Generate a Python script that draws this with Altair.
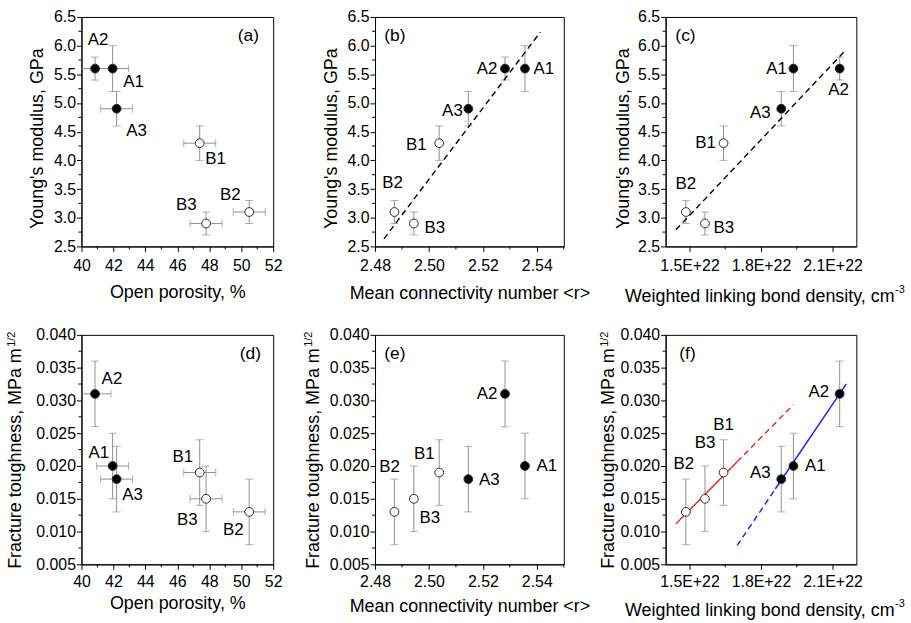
import altair as alt
import pandas as pd

# ---------------- data ----------------
samples = ["A1", "A2", "A3", "B1", "B2", "B3"]
series = ["A", "A", "A", "B", "B", "B"]
open_porosity = [41.95, 40.85, 42.2, 47.4, 50.5, 47.8]
open_porosity_err = [1.0, 1.0, 1.0, 1.0, 1.0, 1.0]
mean_connectivity = [2.5356, 2.5282, 2.5146, 2.5038, 2.4872, 2.4944]
bond_density = [1.936e22, 2.130e22, 1.885e22, 1.643e22, 1.485e22, 1.565e22]
youngs_modulus = [5.6, 5.6, 4.9, 4.3, 3.1, 2.9]
youngs_modulus_err = [0.4, 0.2, 0.3, 0.3, 0.2, 0.2]
fracture_toughness = [0.020, 0.031, 0.018, 0.019, 0.013, 0.015]
fracture_toughness_err = [0.005, 0.005, 0.005, 0.005, 0.005, 0.005]

# fitted lines (end points)
fit_b_x = [2.4833, 2.5413]
fit_b_y = [2.633, 6.235]
fit_c_x = [1.443e22, 2.158e22]
fit_c_y = [2.789, 5.934]
fit_f_red_x = [1.443e22, 1.700e22, 1.936e22]      # solid, then dashed
fit_f_red_y = [0.01117, 0.02064, 0.02934]
fit_f_blue_x = [1.700e22, 1.860e22, 2.158e22]     # dashed, then solid
fit_f_blue_y = [0.00788, 0.01649, 0.03253]

# axis ticks
porosity_ticks = [40, 42, 44, 46, 48, 50, 52]
porosity_minor = [41, 43, 45, 47, 49, 51]
connectivity_ticks = [2.48, 2.50, 2.52, 2.54]
connectivity_minor = [2.49, 2.51, 2.53, 2.55]
density_ticks = [1.5e22, 1.8e22, 2.1e22]
density_minor = [1.65e22, 1.95e22]
youngs_ticks = [2.5, 3.0, 3.5, 4.0, 4.5, 5.0, 5.5, 6.0, 6.5]
youngs_minor = [2.75, 3.25, 3.75, 4.25, 4.75, 5.25, 5.75, 6.25]
tough_ticks = [0.005, 0.010, 0.015, 0.020, 0.025, 0.030, 0.035, 0.040]
tough_minor = [0.0075, 0.0125, 0.0175, 0.0225, 0.0275, 0.0325, 0.0375]

FONT = "Liberation Sans"
ERR = "#8f8f8f"
H = 231


def text_layer(txt, x, y, size=17, **kw):
    return alt.Chart(pd.DataFrame({"t": [txt]})).mark_text(
        font=FONT, fontSize=size, color="black", **kw
    ).encode(x=alt.value(x), y=alt.value(y), text="t:N")


def panel(p):
    W = p["W"]
    df = pd.DataFrame({
        "sample": samples, "series": series, "x": p["x"], "y": p["y"],
        "ylo": [v - e for v, e in zip(p["y"], p["yerr"])],
        "yhi": [v + e for v, e in zip(p["y"], p["yerr"])],
    })
    if p.get("xerr"):
        df["xlo"] = [v - e for v, e in zip(p["x"], p["xerr"])]
        df["xhi"] = [v + e for v, e in zip(p["x"], p["xerr"])]
    xs = alt.Scale(domain=p["xdomain"], nice=False, zero=False)
    ys = alt.Scale(domain=p["ydomain"], nice=False, zero=False)
    xaxis_kw = dict(values=p["xticks"], title=p["xtitle"], tickSize=5, labelPadding=p["xlabpad"],
                    titleX=p["xtitleX"], titleY=p["xtitleY"], titleAlign=p["xtitleAlign"],
                    titleBaseline="alphabetic", labelFlush=False, labelOverlap=False, grid=False)
    if "xlabelExpr" in p:
        xaxis_kw["labelExpr"] = p["xlabelExpr"]
    else:
        xaxis_kw["format"] = p["xfmt"]
    xaxis = alt.Axis(**xaxis_kw)
    yaxis = alt.Axis(values=p["yticks"], format=p["yfmt"], title=p["ytitle"], tickSize=5, labelPadding=1,
                     titleX=p["ytitleX"], titleY=p["ytitleY"], titleAlign=p["ytitleAlign"], titleAngle=270,
                     titleBaseline="alphabetic", labelFlush=False, labelOverlap=False, grid=False)
    base = alt.Chart(df)
    X = lambda f: alt.X(f, scale=xs, axis=xaxis, title=p["xtitle"])
    Y = lambda f: alt.Y(f, scale=ys, axis=yaxis, title=p["ytitle"])
    layers = [
        base.mark_rule(color=ERR, strokeWidth=1).encode(x=X("x:Q"), y=Y("ylo:Q"), y2="yhi:Q"),
        base.mark_tick(color=ERR, thickness=1, size=8, orient="horizontal").encode(x=X("x:Q"), y=Y("ylo:Q")),
        base.mark_tick(color=ERR, thickness=1, size=8, orient="horizontal").encode(x=X("x:Q"), y=Y("yhi:Q")),
    ]
    if p.get("xerr"):
        layers += [
            base.mark_rule(color=ERR, strokeWidth=1, clip=True).encode(x=X("xlo:Q"), x2="xhi:Q", y=Y("y:Q")),
            base.mark_tick(color=ERR, thickness=1, size=8, orient="vertical", clip=True).encode(x=X("xlo:Q"), y=Y("y:Q")),
            base.mark_tick(color=ERR, thickness=1, size=8, orient="vertical", clip=True).encode(x=X("xhi:Q"), y=Y("y:Q")),
        ]
    for (lx, ly, color, dash) in p.get("lines", []):
        ldf = pd.DataFrame({"lx": lx, "ly": ly})
        kw = dict(color=color, strokeWidth=1.4)
        if dash:
            kw["strokeDash"] = [6, 4]
        layers.append(alt.Chart(ldf).mark_line(**kw).encode(x=X("lx:Q"), y=Y("ly:Q")))
    layers.append(base.mark_circle(size=78, opacity=1, stroke="#2a2a2a", strokeWidth=1).encode(
        x=X("x:Q"), y=Y("y:Q"),
        fill=alt.Fill("series:N", scale=alt.Scale(domain=["A", "B"], range=["black", "white"]), legend=None)))
    for s in samples:
        dx, dy = p["offsets"][s]
        layers.append(base.transform_filter(alt.datum.sample == s).mark_text(
            font=FONT, fontSize=17, color="black", dx=dx, dy=dy, align="center", baseline="middle"
        ).encode(x=X("x:Q"), y=Y("y:Q"), text="sample:N"))
    # minor ticks
    layers.append(alt.Chart(pd.DataFrame({"m": p["xminor"]})).mark_rule(color="black").encode(
        x=X("m:Q"), y=alt.value(H), y2=alt.value(H + 3)))
    layers.append(alt.Chart(pd.DataFrame({"m": p["yminor"]})).mark_rule(color="black").encode(
        y=Y("m:Q"), x=alt.value(0), x2=alt.value(-3)))
    # panel letter
    layers.append(text_layer(p["letter"], p["letter_pos"][0], p["letter_pos"][1], size=17.5,
                             align="center", baseline="middle"))
    if p.get("ysup"):
        layers.append(text_layer("1/2", p["ytitleX"] - 6, p["ytitleY"] - 1, size=11, angle=270,
                                 align="left", baseline="alphabetic"))
    if p.get("xsup"):
        layers.append(text_layer("-3", p["xtitleX"] + 1, H + p["xtitleY"] - 8, size=11,
                                 align="left", baseline="alphabetic"))
    return alt.layer(*layers).properties(width=W, height=H)


common_top = dict(y=youngs_modulus, yerr=youngs_modulus_err, ydomain=[2.5, 6.5], yticks=youngs_ticks,
                  yminor=youngs_minor, yfmt=".1f", ytitle="Young's modulus, GPa", ytitleY=122,
                  ytitleAlign="center", xlabpad=6)
common_bot = dict(y=fracture_toughness, yerr=fracture_toughness_err, ydomain=[0.005, 0.040], yticks=tough_ticks,
                  yminor=tough_minor, yfmt=".3f", ytitle="Fracture toughness, MPa m", ytitleY=13,
                  ytitleAlign="right", ysup=True, xlabpad=4)
px_por = dict(x=open_porosity, xerr=open_porosity_err, xdomain=[40, 52], xticks=porosity_ticks,
              xminor=porosity_minor, xfmt="d", xtitle="Open porosity, %", xtitleX=96.5, xtitleAlign="center", W=193)
px_con = dict(x=mean_connectivity, xdomain=[2.48, 2.55], xticks=connectivity_ticks, xminor=connectivity_minor,
              xfmt=".2f", xtitle="Mean connectivity number <r>", xtitleX=95, xtitleAlign="center", W=190)
px_den = dict(x=bond_density, xdomain=[1.4e22, 2.2e22], xticks=density_ticks, xminor=density_minor,
              xlabelExpr="format(datum.value / 1e22, '.1f') + 'E+22'",
              xtitle="Weighted linking bond density, cm", xtitleX=230, xtitleAlign="right", xsup=True, W=192)

pa = panel({**common_top, **px_por, "letter": "(a)", "letter_pos": (168, 19), "ytitleX": -39, "xtitleY": 51,
            "offsets": {"A1": (21, 14), "A2": (3, -29), "A3": (20, 22), "B1": (16, 16), "B2": (-19, -17), "B3": (-20, -19)}})
pb = panel({**common_top, **px_con, "letter": "(b)", "letter_pos": (20, 19), "ytitleX": -39, "xtitleY": 52,
            "lines": [(fit_b_x, fit_b_y, "black", True)],
            "offsets": {"A1": (19, 0), "A2": (-18, 0), "A3": (-16, 2), "B1": (-23, 2), "B2": (-2, -29), "B3": (21, 5)}})
pc = panel({**common_top, **px_den, "letter": "(c)", "letter_pos": (20, 19), "ytitleX": -37, "xtitleY": 55,
            "lines": [(fit_c_x, fit_c_y, "black", True)],
            "offsets": {"A1": (-17, 0), "A2": (-1, 22), "A3": (-21, 4), "B1": (-18, 0), "B2": (0, -28), "B3": (19, 5)}})
pd_ = panel({**common_bot, **px_por, "letter": "(d)", "letter_pos": (170, 19), "ytitleX": -61, "xtitleY": 44,
             "offsets": {"A1": (-14, -13), "A2": (17, -15), "A3": (16, 16), "B1": (-17, -16), "B2": (-16, 18), "B3": (-19, 21)}})
pe = panel({**common_bot, **px_con, "letter": "(e)", "letter_pos": (20, 19), "ytitleX": -57, "xtitleY": 47,
            "offsets": {"A1": (22, 0), "A2": (-18, 0), "A3": (21, 1), "B1": (-15, -19), "B2": (-5, -45), "B3": (16, 19)}})
pf = panel({**common_bot, **px_den, "letter": "(f)", "letter_pos": (22, 19), "ytitleX": -52, "xtitleY": 51,
            "lines": [(fit_f_red_x[:2], fit_f_red_y[:2], "#ff1a1a", False),
                      (fit_f_red_x[1:], fit_f_red_y[1:], "#ff1a1a", True),
                      (fit_f_blue_x[:2], fit_f_blue_y[:2], "#1a1aff", True),
                      (fit_f_blue_x[1:], fit_f_blue_y[1:], "#1a1aff", False)],
            "offsets": {"A1": (22, 0), "A2": (-21, -2), "A3": (-21, -6), "B1": (0, -48), "B2": (-2, -48), "B3": (0, -56)}})

chart = alt.concat(pa, pb, pc, pd_, pe, pf, columns=3, spacing={"row": 89, "column": 102.5}, bounds="flush")
chart = chart.properties(
    padding={"left": 5, "top": 6, "right": 5, "bottom": 2}, background="white"
).configure_view(stroke="black", strokeWidth=1).configure_axis(
    domainColor="black", tickColor="black", labelColor="black", titleColor="black",
    labelFont=FONT, titleFont=FONT, labelFontSize=16, titleFontSize=18, titleFontWeight="normal",
    domainWidth=1, tickWidth=1, grid=False
)

chart.save("out.html", embed_options={"renderer": "svg", "actions": False})
